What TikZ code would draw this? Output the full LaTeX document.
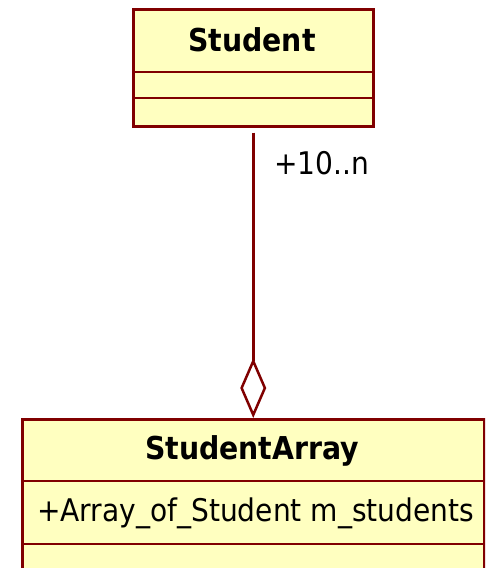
\documentclass[tikz,border=0pt]{standalone}
\usepackage{fontspec}
\setmainfont{DejaVu Sans Condensed}
\usetikzlibrary{arrows.meta}
\definecolor{umlborder}{HTML}{800000}
\definecolor{umlfill}{HTML}{FFFFC0}
\tikzset{
  classbox/.style={draw=umlborder, fill=umlfill, line width=2.5pt, rectangle, inner sep=0pt},
  divider/.style={draw=umlborder, line width=2.5pt},
  classname/.style={font=\fontsize{31.5}{36}\selectfont\bfseries, inner sep=0pt},
  attrtext/.style={font=\fontsize{31.2}{36}\selectfont, inner sep=0pt},
  multtext/.style={font=\fontsize{31.2}{36}\selectfont, inner sep=0pt},
  aggregation/.style={draw=umlborder, line width=2.5pt, -{Diamond[open, length=60pt, width=26pt]}}
}
\begin{document}
\begin{tikzpicture}[x=1pt,y=-1pt]
\useasboundingbox (0,0) rectangle (485,568);
\clip (0,0) rectangle (485,568);
\fill[white] (0,0) rectangle (485,568);
% Student class
\node[classbox, minimum width=240pt, minimum height=117pt, anchor=north west] (student) at (132,8) {};
\draw[divider] (132,72) -- (374,72);
\draw[divider] (132,98) -- (374,98);
\node[classname] (studentname) at (252,40) {Student};
% StudentArray class
\node[classbox, minimum width=462pt, minimum height=180pt, anchor=north west] (studentarray) at (21,418) {};
\draw[divider] (21,481) -- (485,481);
\draw[divider] (21,544) -- (485,544);
\node[classname] (arrayname) at (252,451) {StudentArray};
\node[attrtext, anchor=west] (attr) at (37,513) {+Array\_of\_Student m\_students};
% aggregation
\draw[aggregation, shorten <=5pt] (student.south) -- (studentarray.north);
\node[multtext, anchor=west] (mult) at (274,163) {+10..n};
\end{tikzpicture}
\end{document}
